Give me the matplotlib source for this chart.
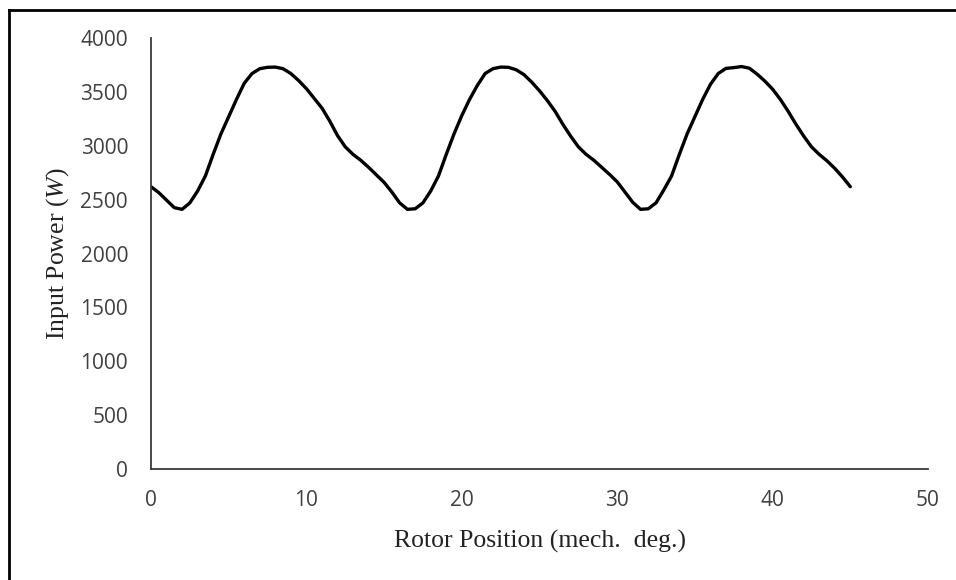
import matplotlib
matplotlib.use("Agg")
import matplotlib.pyplot as plt
from matplotlib.lines import Line2D

plt.rcParams["mathtext.fontset"] = "custom"
plt.rcParams["mathtext.rm"] = "Liberation Serif"
plt.rcParams["mathtext.it"] = "Liberation Serif:italic"

# rotor position (mech. deg.) and input power (W)
position = [0.0, 0.5, 1.0, 1.5, 2.0, 2.5, 3.0, 3.5, 4.0, 4.5,
            5.0, 5.5, 6.0, 6.5, 7.0, 7.5, 8.0, 8.5, 9.0, 9.5,
            10.0, 10.5, 11.0, 11.5, 12.0, 12.5, 13.0, 13.5, 14.0, 14.5,
            15.0, 15.5, 16.0, 16.5, 17.0, 17.5, 18.0, 18.5, 19.0, 19.5,
            20.0, 20.5, 21.0, 21.5, 22.0, 22.5, 23.0, 23.5, 24.0, 24.5,
            25.0, 25.5, 26.0, 26.5, 27.0, 27.5, 28.0, 28.5, 29.0, 29.5,
            30.0, 30.5, 31.0, 31.5, 32.0, 32.5, 33.0, 33.5, 34.0, 34.5,
            35.0, 35.5, 36.0, 36.5, 37.0, 37.5, 38.0, 38.5, 39.0, 39.5,
            40.0, 40.5, 41.0, 41.5, 42.0, 42.5, 43.0, 43.5, 44.0, 44.5,
            45.0]
power = [2620, 2565, 2495, 2425, 2410, 2470, 2580, 2720, 2920, 3110,
         3270, 3430, 3580, 3670, 3715, 3728, 3730, 3715, 3670, 3605,
         3530, 3440, 3350, 3230, 3095, 2990, 2920, 2865, 2800, 2730,
         2660, 2570, 2470, 2410, 2415, 2470, 2580, 2720, 2920, 3110,
         3280, 3430, 3560, 3670, 3715, 3730, 3728, 3705, 3660, 3590,
         3510, 3420, 3320, 3200, 3090, 2990, 2920, 2865, 2800, 2735,
         2665, 2570, 2475, 2410, 2415, 2470, 2590, 2720, 2920, 3110,
         3270, 3430, 3570, 3670, 3718, 3725, 3735, 3720, 3665, 3600,
         3525, 3430, 3320, 3200, 3090, 2990, 2920, 2860, 2790, 2710,
         2620]

x_ticks = [0, 10, 20, 30, 40, 50]
y_ticks = [0, 500, 1000, 1500, 2000, 2500, 3000, 3500, 4000]

fig = plt.figure(figsize=(9.56, 5.8), dpi=100)
ax = fig.add_axes([151 / 956, 111 / 580, 777 / 956, 431 / 580])

ax.plot(position, power, color="black", lw=2.4,
        solid_joinstyle="round", solid_capstyle="round")

ax.set_xlim(0, 50)
ax.set_ylim(0, 4000)
ax.set_xticks(x_ticks)
ax.set_yticks(y_ticks)
ax.tick_params(length=0, labelsize=15, labelcolor="#404040")
ax.tick_params(axis="x", pad=15)
ax.tick_params(axis="y", pad=16.5)
for lbl in ax.get_xticklabels() + ax.get_yticklabels():
    lbl.set_family("Open Sans")

for side in ["top", "right"]:
    ax.spines[side].set_visible(False)
for side in ["left", "bottom"]:
    ax.spines[side].set_color("#3a3a3a")
    ax.spines[side].set_linewidth(1.3)

ax.set_xlabel("Rotor Position (mech.  deg.)", family="Liberation Serif",
              fontsize=18.5, color="#222222", labelpad=14)
ax.set_ylabel(r"Input Power ($\mathit{W}$)", family="Liberation Serif",
              fontsize=18.5, color="#222222", labelpad=7)

# outer frame, only the top and left edges fall inside the picture
fig.add_artist(Line2D([9 / 956, 1.0], [570 / 580, 570 / 580],
                      transform=fig.transFigure, color="black", lw=2))
fig.add_artist(Line2D([9 / 956, 9 / 956], [0.0, 570 / 580],
                      transform=fig.transFigure, color="black", lw=2))

fig.savefig("out.png", dpi=100)
